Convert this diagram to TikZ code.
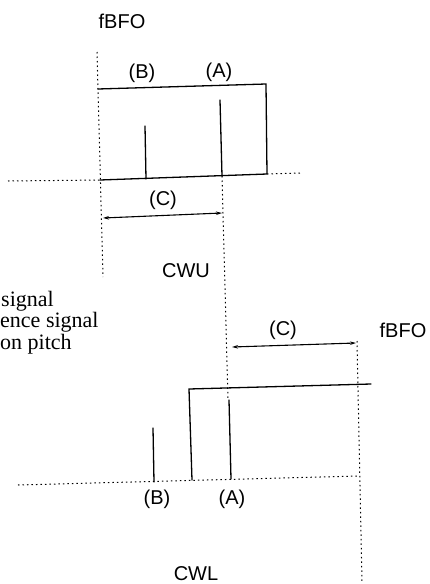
\documentclass[tikz,border=0pt]{standalone}
\usepackage{fontspec}
\setmainfont{Liberation Serif}
\newfontfamily\labelfont{Liberation Sans}
\usetikzlibrary{arrows.meta}
\tikzset{
  solidline/.style={line width=1.3pt, line cap=round},
  dotline/.style={line width=1pt, dash pattern=on 1.5pt off 3pt},
  dimline/.style={line width=1.1pt, {Stealth[length=6pt,width=3.5pt]}-{Stealth[length=6pt,width=3.5pt]}},
  lbl/.style={font=\labelfont\fontsize{20}{24}\selectfont, inner sep=0pt},
  txt/.style={font=\fontsize{22}{26}\selectfont, inner sep=0pt, anchor=base west}
}
\begin{document}
\begin{tikzpicture}[x=1pt,y=-1pt]
\useasboundingbox (0,0) rectangle (429,584);
% ---------- upper spectrum (CWU) ----------
\coordinate (vL1) at (97,52);
\coordinate (vL2) at (103,277);
\coordinate (hL1) at (8,181);
\coordinate (b0) at (100,180);
\coordinate (b1) at (267,174);
\coordinate (hR1) at (300,173);
\coordinate (rTL) at (98,89);
\coordinate (rTR) at (266,84);
\coordinate (Bt) at (145,126);
\coordinate (Bb) at (146,179);
\coordinate (At) at (220,100);
\coordinate (Ab) at (222,176);
\coordinate (mid2) at (228,400);
\coordinate (c1a) at (103,218);
\coordinate (c1b) at (222,213);

\node[lbl] (fbfo1) at (122,21) {fBFO};
\node[lbl] (lB1) at (142,73) {(B)};
\node[lbl] (lA1) at (219,72) {(A)};
\node[lbl] (lC1) at (163,200) {(C)};
\node[lbl] (cwu) at (186,271) {CWU};

\draw[dotline] (vL1) -- (vL2);
\draw[dotline] (hL1) -- (b0);
\draw[dotline] (b1) -- (hR1);
\draw[solidline] (b0) -- (b1) -- (rTR) -- (rTL);
\draw[solidline] (Bt) -- (Bb);
\draw[solidline] (At) -- (Ab);
\draw[dotline] (Ab) -- (mid2);
\draw[dimline] (c1a) -- (c1b);

% ---------- left texts ----------
\node[txt] (t1) at (1,306) {signal};
\node[txt] (t2) at (0,327) {ence signal};
\node[txt] (t3) at (0,349) {on pitch};

% ---------- lower spectrum (CWL) ----------
\coordinate (c2a) at (232,347);
\coordinate (c2b) at (356,343);
\coordinate (vR1) at (357,341);
\coordinate (vR2) at (362,582);
\coordinate (hL2) at (18,485);
\coordinate (hR2) at (358,476);
\coordinate (rBL) at (192,480);
\coordinate (rTL2) at (189,389);
\coordinate (rTR2) at (371,384);
\coordinate (B2t) at (153,428);
\coordinate (B2b) at (154,482);
\coordinate (A2t) at (229,400);
\coordinate (A2b) at (231,479);

\node[lbl] (lC2) at (283,330) {(C)};
\node[lbl] (fbfo2) at (403,330) {fBFO};
\node[lbl] (lB2) at (157,499) {(B)};
\node[lbl] (lA2) at (232,499) {(A)};
\node[lbl] (cwl) at (196,574) {CWL};

\draw[dimline] (c2a) -- (c2b);
\draw[dotline] (vR1) -- (vR2);
\draw[dotline] (hL2) -- (hR2);
\draw[solidline] (rBL) -- (rTL2) -- (rTR2);
\draw[solidline] (B2t) -- (B2b);
\draw[solidline] (A2t) -- (A2b);
\end{tikzpicture}
\end{document}
